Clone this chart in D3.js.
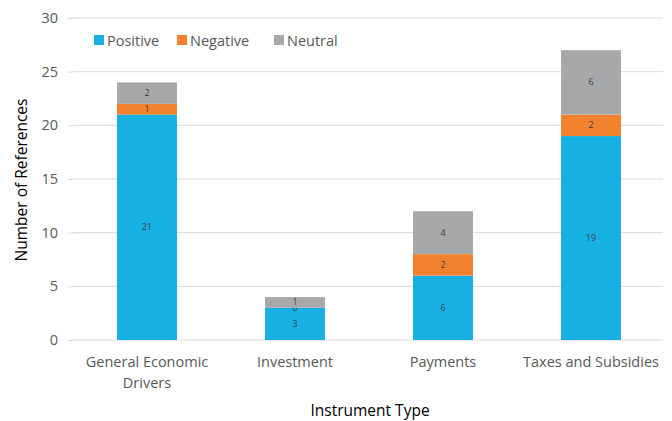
<!DOCTYPE html>
<html><head><meta charset="utf-8">
<script src="https://cdn.jsdelivr.net/npm/d3@7"></script>
<style>body{margin:0;background:#fff;font-family:"Open Sans",sans-serif;}</style>
</head><body><svg id="c" width="672" height="421"></svg>
<script>
const categories = ["General Economic Drivers","Investment","Payments","Taxes and Subsidies"];
const seriesNames = ["Positive","Negative","Neutral"];
const positive = [21,3,6,19];
const negative = [1,0,2,2];
const neutral = [2,1,4,6];
const yTicks = [0,5,10,15,20,25,30];
const colors = ["#17B0E2","#F28230","#A6A8A9"];

const svg = d3.select("#c");
const m = {l:73, r:7, t:18, b:81};
const W = 672, H = 421;
const x = d3.scaleBand().domain(categories).range([m.l, W-m.r]).paddingInner(0.595).paddingOuter(0.2975);
const y = d3.scaleLinear().domain([0,30]).range([H-m.b, m.t]);

// gridlines
svg.append("g").selectAll("line").data(yTicks).join("line")
  .attr("x1", m.l).attr("x2", W-m.r-2)
  .attr("y1", d=>y(d)).attr("y2", d=>y(d))
  .attr("stroke", "#D9D9D9").attr("stroke-width", 1);

const yAxis = svg.append("g").attr("transform",`translate(${m.l},0)`)
  .call(d3.axisLeft(y).tickValues(yTicks).tickSize(5).tickPadding(10));
yAxis.select(".domain").remove();
yAxis.selectAll("line").attr("stroke","#D9D9D9");
yAxis.selectAll("text").attr("fill","#595959").style("font-size","14.5px").style("font-family","Open Sans");

const data = categories.map((c,i)=>({cat:c, Positive:positive[i], Negative:negative[i], Neutral:neutral[i]}));
const stack = d3.stack().keys(seriesNames)(data);

stack.forEach((s,si)=>{
  const g = svg.append("g");
  g.selectAll("rect").data(s).join("rect")
    .attr("x", d=>x(d.data.cat)).attr("width", x.bandwidth())
    .attr("y", d=>y(d[1])).attr("height", d=>y(d[0])-y(d[1]))
    .attr("fill", colors[si]);
  g.selectAll("text").data(s).join("text")
    .attr("x", d=>x(d.data.cat)+x.bandwidth()/2)
    .attr("y", d=>(y(d[0])+y(d[1]))/2 + 3)
    .attr("text-anchor","middle").attr("fill","#404040")
    .style("font-size","9px")
    .text(d=>d.data[seriesNames[si]]);
});

// x category labels
const xl = svg.append("g").style("font-size","14.5px").attr("fill","#595959");
categories.forEach(c=>{
  const cx = x(c)+x.bandwidth()/2;
  let lines = c==="General Economic Drivers" ? ["General Economic","Drivers"] : [c];
  lines.forEach((t,k)=>{
    xl.append("text").attr("x",cx).attr("y",367+k*21).attr("text-anchor","middle").text(t);
  });
});

// axis titles
svg.append("text").attr("x",370).attr("y",416).attr("text-anchor","middle")
  .style("font-size","15.5px").attr("fill","#000").text("Instrument Type");
svg.append("text").attr("transform","translate(27,180) rotate(-90)").attr("text-anchor","middle")
  .style("font-size","15.5px").attr("fill","#000").text("Number of References");

// legend
const legX = [94,177,274];
const lg = svg.append("g");
seriesNames.forEach((n,i)=>{
  lg.append("rect").attr("x",legX[i]).attr("y",35).attr("width",10).attr("height",10).attr("fill",colors[i]);
  lg.append("text").attr("x",legX[i]+13).attr("y",45.5).style("font-size","14.5px").attr("fill","#595959").text(n);
});
</script></body></html>
